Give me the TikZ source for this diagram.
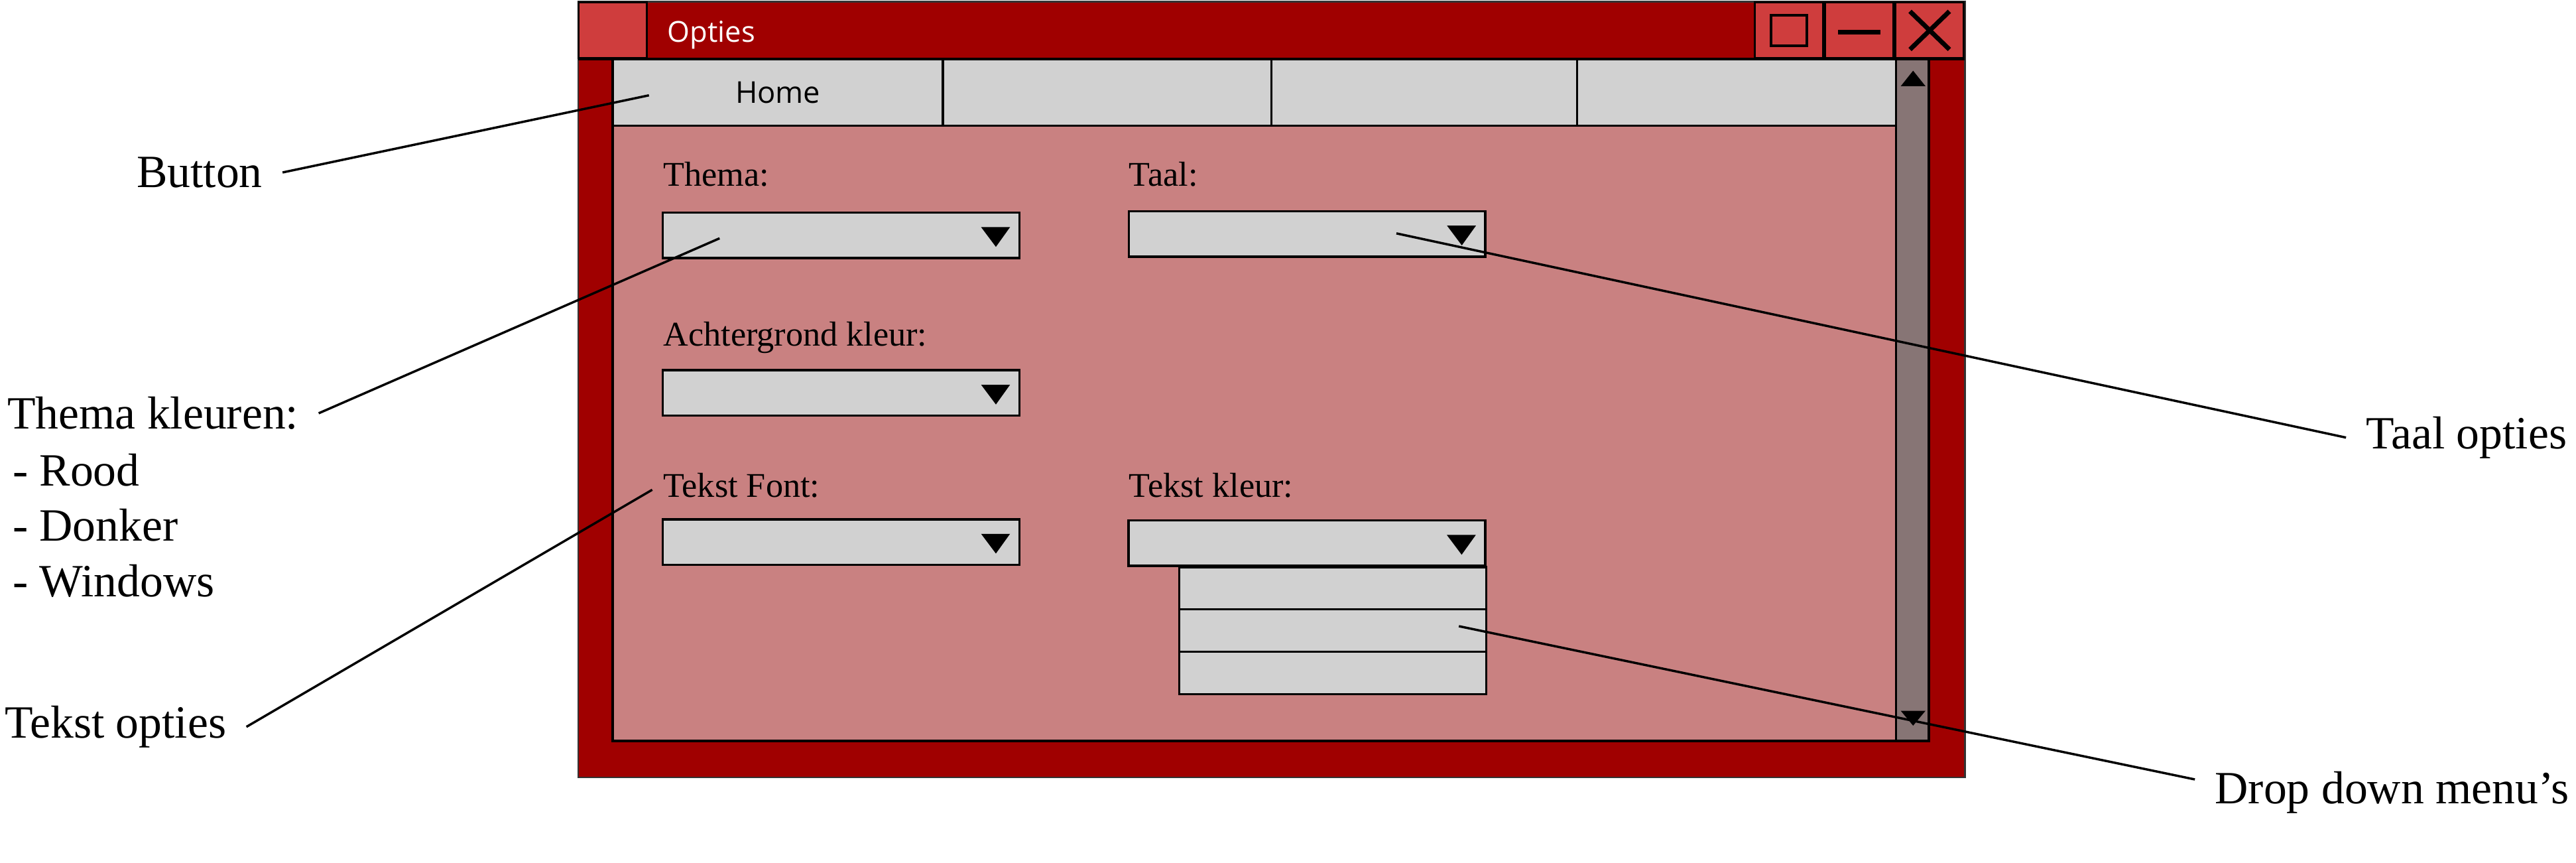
\documentclass[tikz,border=0pt]{standalone}
\usepackage{fontspec}
\setmainfont{Liberation Serif}
\newfontfamily\uifont{Open Sans}
\usetikzlibrary{positioning}

\definecolor{winred}{HTML}{A00000}
\definecolor{btnred}{HTML}{CF3D3D}
\definecolor{bodypink}{HTML}{C98181}
\definecolor{tabgray}{HTML}{D1D1D1}
\definecolor{scrollgray}{HTML}{877575}

\begin{document}
\begin{tikzpicture}[x=0.25mm, y=-0.25mm,
    titlebtn/.style={rectangle, draw, fill=btnred, line width=0.3mm, minimum width=10.4mm, minimum height=8.45mm, inner sep=0pt},
    tab/.style={rectangle, draw, fill=tabgray, line width=0.35mm, minimum height=10.1mm, inner sep=0pt, outer sep=0pt, font=\uifont\fontsize{13}{15}\selectfont},
    dropbox/.style={rectangle, draw, fill=tabgray, line width=0.35mm, minimum width=54.25mm, minimum height=6.9mm, inner sep=0pt},
    dropitem/.style={rectangle, draw, fill=tabgray, line width=0.35mm, minimum width=46.75mm, minimum height=6.45mm, inner sep=0pt, outer sep=0pt},
    field/.style={inner sep=0pt, font=\fontsize{15}{18}\selectfont},
    note/.style={inner xsep=3mm, inner ysep=0pt, font=\fontsize{20}{24}\selectfont},
    pointer/.style={line width=0.35mm}]
    \useasboundingbox (0,0) rectangle (1568,525);

    % Window
    \filldraw[fill=winred, draw=black!80, line width=0.25mm] (352,1) rectangle (1196,473);

    % Title bar
    \node[titlebtn] (appicon) at (373,18.5) {};
    \node[anchor=base west, inner sep=0pt, text=white, font=\uifont\fontsize{12.5}{15}\selectfont] (title) at (406,25.6) {Opties};
    \node[titlebtn] (closebtn) at (1174.6,18.5) {};
    \node[titlebtn, left=0pt of closebtn] (minbtn) {};
    \node[titlebtn, left=0pt of minbtn] (maxbtn) {};
    \node[draw, line width=0.4mm, minimum width=5.5mm, minimum height=4.6mm, inner sep=0pt] (maxicon) at (maxbtn) {};
    \draw[line width=0.7mm] ([xshift=-3.25mm,yshift=-0.3mm]minbtn.center) -- ([xshift=3.25mm,yshift=-0.3mm]minbtn.center);
    \draw[line width=0.7mm] ([xshift=-3mm,yshift=2.9mm]closebtn.center) -- ([xshift=3mm,yshift=-2.9mm]closebtn.center);
    \draw[line width=0.7mm] ([xshift=-3mm,yshift=-2.9mm]closebtn.center) -- ([xshift=3mm,yshift=2.9mm]closebtn.center);
    \draw[line width=0.4mm] (352,36) -- (1196,36);

    % Content area and scroll bar
    \fill[bodypink] (373,76) rectangle (1154,451);
    \filldraw[fill=scrollgray, line width=0.35mm] (1154,36) rectangle (1174,451);
    \fill (1157,52.4) -- (1172,52.4) -- (1164.5,43) -- cycle;
    \fill (1157,432.5) -- (1172,432.5) -- (1164.5,441.5) -- cycle;

    % Menu tabs
    \node[tab, minimum width=50.25mm, anchor=north west] (homebtn) at (373,36) {Home\hspace{2.5mm}};
    \node[tab, minimum width=50mm, right=0pt of homebtn] (tab2) {};
    \node[tab, minimum width=46.5mm, right=0pt of tab2] (tab3) {};
    \node[tab, minimum width=48.5mm, right=0pt of tab3] (tab4) {};
    \draw[line width=0.4mm] (373,36) rectangle (1174,451);

    % Drop down fields
    \node[field, anchor=base west] (themalbl) at (403.5,113.4) {Thema:};
    \node[dropbox] (themabox) at (512,143.2) {};
    \node[field, anchor=base west] (taallbl) at (687,113.4) {Taal:};
    \node[dropbox] (taalbox) at (795.6,142.3) {};
    \node[field, anchor=base west] (achtergrondlbl) at (403.5,210.5) {Achtergrond kleur:};
    \node[dropbox] (achtergrondbox) at (512,239.1) {};
    \node[field, anchor=base west] (fontlbl) at (403.5,302.5) {Tekst Font:};
    \node[dropbox] (fontbox) at (512,329.8) {};
    \node[field, anchor=base west] (kleurlbl) at (687,302.5) {Tekst kleur:};
    \node[dropbox] (kleurbox) at (795.5,330.5) {};
    \node[dropitem, anchor=north east] (kleur1) at (kleurbox.south east) {};
    \node[dropitem, below=0pt of kleur1] (kleur2) {};
    \node[dropitem, below=0pt of kleur2] (kleur3) {};
    \foreach \fld in {themabox, taalbox, achtergrondbox, fontbox, kleurbox}
        \fill ([xshift=-6mm,yshift=1.25mm]\fld.east) -- ([xshift=-1.6mm,yshift=1.25mm]\fld.east) -- ([xshift=-3.75mm,yshift=-1.75mm]\fld.east) -- cycle;

    % Notes
    \node[note, anchor=base east] (buttonnote) at (172,114) {Button};
    \node[note, anchor=base east] (themanote) at (194,261) {Thema kleuren:};
    \node[note, anchor=north west, align=left] (themalist) at (-4.6,275.7) {- Rood\\- Donker\\- Windows};
    \node[note, anchor=base east] (tekstnote) at (150,449) {Tekst opties};
    \node[note, anchor=base west] (taalnote) at (1428,273) {Taal opties};
    \node[note, anchor=base west] (dropnote) at (1336,489) {Drop down menu’s};

    % Pointers
    \coordinate (homept) at (395,58);
    \coordinate (themapt) at (438,145);
    \coordinate (fontpt) at (397,298);
    \coordinate (taalpt) at (850,142);
    \coordinate (droppt) at (888,381);
    \draw[pointer] (buttonnote.east) -- (homept);
    \draw[pointer] (themanote.east) -- (themapt);
    \draw[pointer] (tekstnote.east) -- (fontpt);
    \draw[pointer] (taalnote.west) -- (taalpt);
    \draw[pointer] ([yshift=2mm]dropnote.west) -- (droppt);
\end{tikzpicture}
\end{document}
